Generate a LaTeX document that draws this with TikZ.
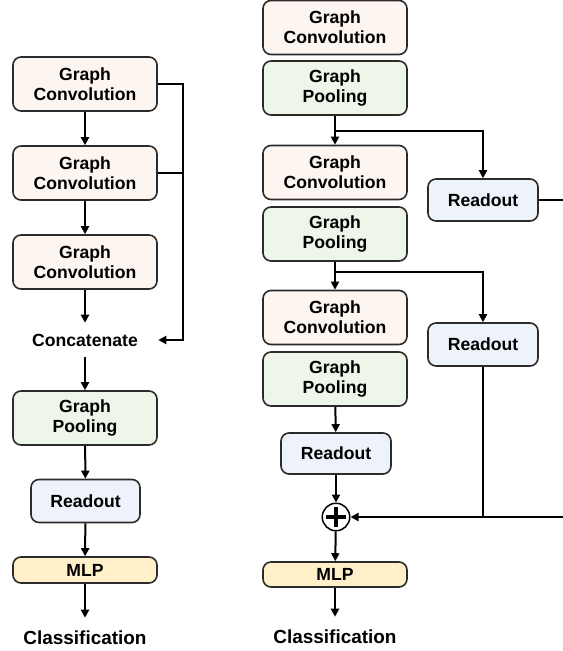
\documentclass[tikz,border=0pt]{standalone}
\usepackage{fontspec}
\setmainfont{Liberation Sans}
\usetikzlibrary{arrows.meta}
\newdimen\px \px=0.75pt
\definecolor{gcfill}{HTML}{FDF5F0}
\definecolor{gpfill}{HTML}{EEF5E9}
\definecolor{rofill}{HTML}{EEF2FA}
\definecolor{mlpfill}{HTML}{FFF0C9}
\definecolor{edgecol}{HTML}{2B2B2B}
\tikzset{
  blk/.style={draw=edgecol, line width=1.6\px, rounded corners=8\px, align=center,
    font=\fontsize{13.2}{15}\selectfont\bfseries, inner sep=0pt},
  gconv/.style={blk, fill=gcfill, minimum width=144\px, minimum height=54\px},
  gpool/.style={blk, fill=gpfill, minimum width=144\px, minimum height=54\px},
  rout/.style={blk, fill=rofill, minimum width=109\px, minimum height=43\px},
  mlpbox/.style={blk, fill=mlpfill, minimum width=144\px, minimum height=26\px},
  plaintxt/.style={inner sep=0pt, font=\fontsize{13.2}{15}\selectfont\bfseries},
  clstxt/.style={inner sep=0pt, minimum height=40\px, font=\fontsize{14.2}{16}\selectfont\bfseries},
  conn/.style={line width=1.5pt, black},
  arr/.style={conn, -{Triangle[length=6pt,width=6pt]}},
}
\begin{document}
\begin{tikzpicture}[x=0.75pt,y=-0.75pt]
\useasboundingbox (0,0) rectangle (563,651);
% ---------------- left column ----------------
\node[gconv] (lgc1) at (85,84) {Graph\\Convolution};
\node[gconv] (lgc2) at (85,173) {Graph\\Convolution};
\node[gconv] (lgc3) at (85,262) {Graph\\Convolution};
\node[plaintxt, minimum width=146\px, minimum height=34\px] (concat) at (85,340) {Concatenate};
\node[gpool] (lgp) at (85,418) {Graph\\Pooling};
\node[rout] (lro) at (85.5,501) {Readout};
\node[mlpbox] (lmlp) at (85,570) {MLP};
\node[clstxt] (lcls) at (85,638) {Classification};
\coordinate (lb1) at (183,84);
\coordinate (lb2) at (183,173);
\coordinate (lb3) at (183,340);
\draw[arr] (lgc1) -- (lgc2);
\draw[arr] (lgc2) -- (lgc3);
\draw[arr] (lgc3) -- (concat);
\draw[arr] (concat) -- (lgp);
\draw[arr] (lgp) -- (lro);
\draw[arr] (lro) -- (lmlp);
\draw[arr] (lmlp) -- (lcls);
\draw[arr] (lgc1.east) -- (lb1) -- (lb3) -- (concat.east);
\draw[conn] (lgc2.east) -- (lb2);
% ---------------- right column ----------------
\node[gconv] (rgc1) at (335,27.5) {Graph\\Convolution};
\node[gpool] (rgp1) at (335,88) {Graph\\Pooling};
\node[gconv] (rgc2) at (335,172.5) {Graph\\Convolution};
\node[gpool] (rgp2) at (335,234) {Graph\\Pooling};
\node[gconv] (rgc3) at (335,317.5) {Graph\\Convolution};
\node[gpool] (rgp3) at (335,379) {Graph\\Pooling};
\node[rout, minimum width=110\px, minimum height=42\px] (rro1) at (483,200) {Readout};
\node[rout, minimum width=110\px] (rro2) at (483,344.5) {Readout};
\node[rout, minimum width=110\px, minimum height=41\px] (rro3) at (336,453.5) {Readout};
\node[circle, draw=black, line width=1.5\px, minimum size=27.5\px, inner sep=0pt] (plus) at (336,517) {};
\draw[line width=3pt] ([xshift=-7.5pt]plus.center) -- ([xshift=7.5pt]plus.center);
\draw[line width=3pt] ([yshift=-7.5pt]plus.center) -- ([yshift=7.5pt]plus.center);
\node[mlpbox, minimum height=25\px] (rmlp) at (335,574.5) {MLP};
\node[clstxt] (rcls) at (335,637) {Classification};
\coordinate (j1) at (335,131);
\coordinate (j1r) at (483,131);
\coordinate (j2) at (335,272);
\coordinate (j2r) at (483,272);
\coordinate (e1) at (563.8,200);
\coordinate (e2) at (563.8,517);
\coordinate (j3) at (483,517);
\draw[conn] (rgp1.south) -- (j1);
\draw[arr] (j1) -- (rgc2.north);
\draw[arr] (j1) -- (j1r) -- (rro1.north);
\draw[conn] (rgp2.south) -- (j2);
\draw[arr] (j2) -- (rgc3.north);
\draw[arr] (j2) -- (j2r) -- (rro2.north);
\draw[arr] (rgp3) -- (rro3);
\draw[arr] (rro3) -- (plus);
\draw[arr] (plus) -- (rmlp);
\draw[arr] (rmlp) -- (rcls);
\draw[arr] (rro1.east) -- (e1) -- (e2) -- (plus.east);
\draw[conn] (rro2.south) -- (j3);
\end{tikzpicture}
\end{document}
